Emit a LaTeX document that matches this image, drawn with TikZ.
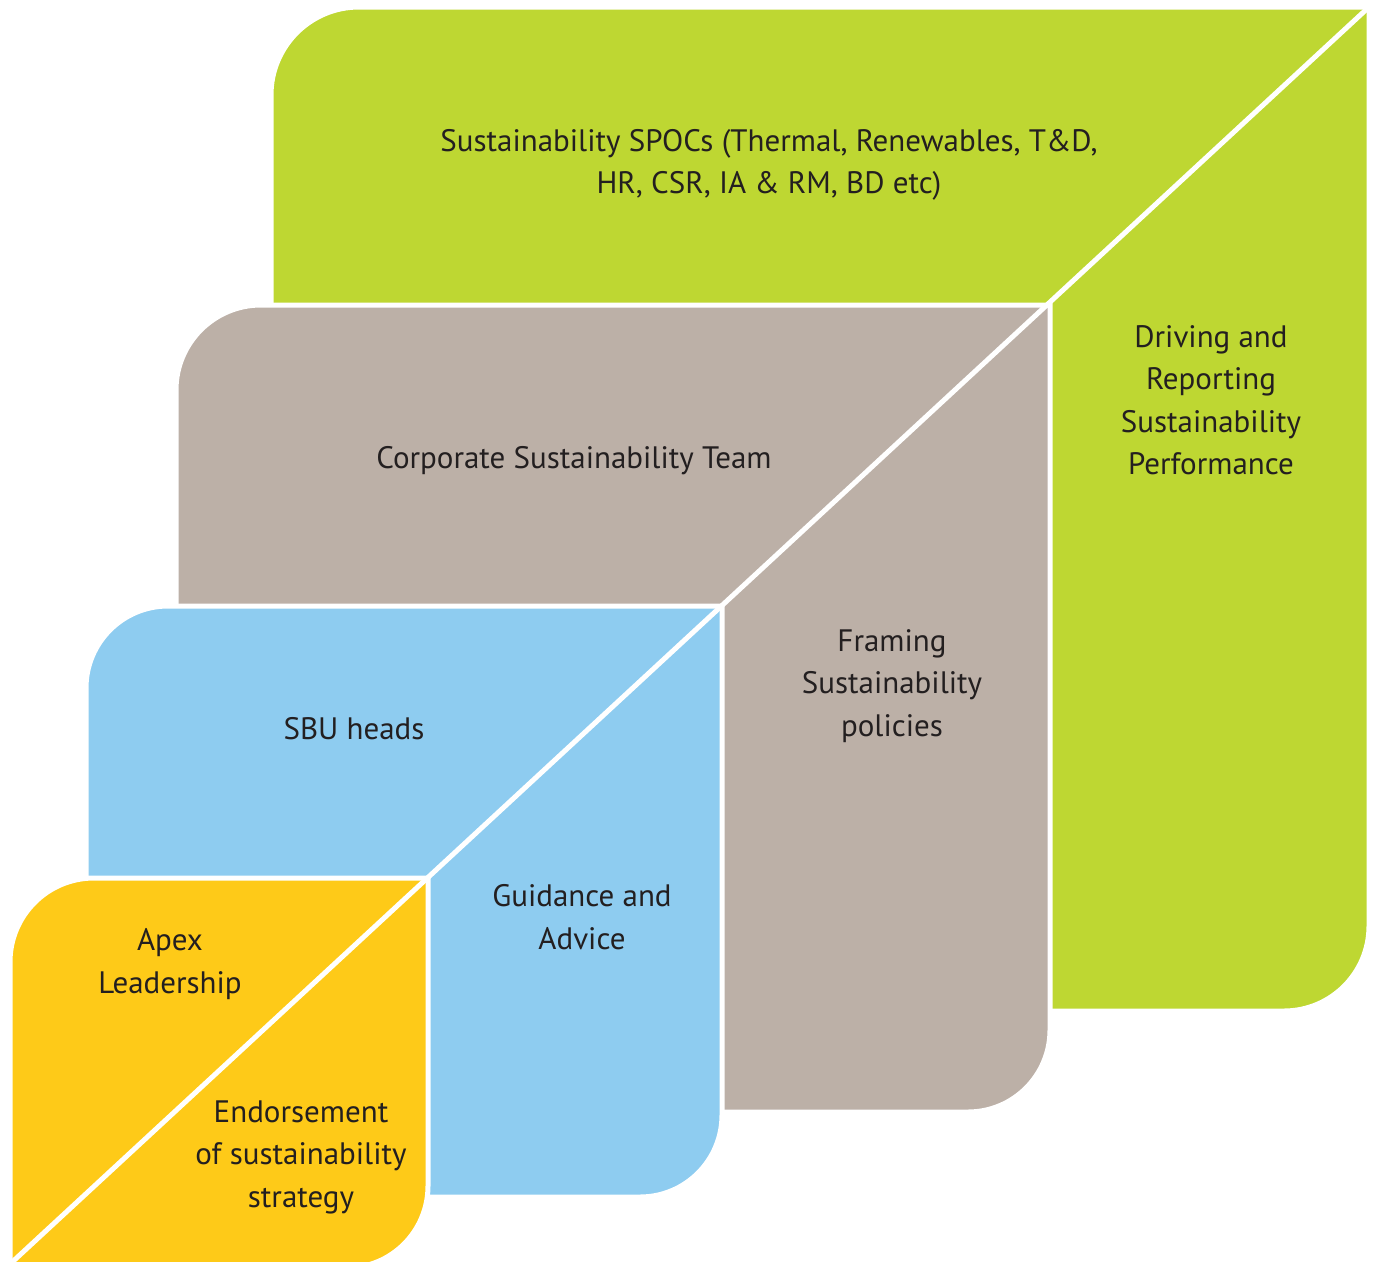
\documentclass[tikz,border=0pt]{standalone}
\usepackage{fontspec}
\setmainfont{PT Sans}
\definecolor{cgreen}{RGB}{190,215,50}
\definecolor{cgray}{RGB}{188,176,167}
\definecolor{cblue}{RGB}{142,204,240}
\definecolor{cyellow}{RGB}{254,202,24}
\definecolor{ctext}{RGB}{35,31,32}
\begin{document}
\begin{tikzpicture}[x=1pt,y=-1pt,
  panel/.style={draw=white,line width=5pt,line join=miter},
  lbl/.style={text=ctext,align=center,font=\fontsize{31}{42.5}\selectfont,inner sep=0pt}]
\useasboundingbox (0,0) rectangle (1373,1261);
% shape: (x1,y2) -- (x1,y1+R) arc -- (x2,y1) -- (x2,y2-R) arc -- cycle
\path[panel,fill=cgreen] (271,1011) -- (271,95) arc[start angle=180,end angle=270,radius=88]
  -- (1369,7) -- (1369,926) arc[start angle=0,end angle=90,radius=85] -- cycle;
\path[panel,fill=cgray] (176,1112) -- (176,390) arc[start angle=180,end angle=270,radius=85]
  -- (1050,305) -- (1050,1030) arc[start angle=0,end angle=90,radius=82] -- cycle;
\path[panel,fill=cblue] (86,1197) -- (86,688) arc[start angle=180,end angle=270,radius=82]
  -- (722,606) -- (722,1115) arc[start angle=0,end angle=90,radius=82] -- cycle;
\path[panel,fill=cyellow] (10,1268) -- (10,962) arc[start angle=180,end angle=270,radius=84]
  -- (428,878) -- (428,1186) arc[start angle=0,end angle=90,radius=82] -- cycle;
\coordinate (dtop) at (1369,7);
\coordinate (dbot) at (9,1265);
\draw[white,line width=5pt] (dtop) -- (dbot);
\node[lbl] (spocs) at (769,165) {Sustainability SPOCs (Thermal, Renewables, T\&D,\\HR, CSR, IA \& RM, BD etc)};
\node[lbl] (drive) at (1211,400) {Driving and\\Reporting\\Sustainability\\Performance};
\node[lbl] (corp) at (574,461) {Corporate Sustainability Team};
\node[lbl] (frame) at (892,686) {Framing\\Sustainability\\policies};
\node[lbl] (sbu) at (354,729) {SBU heads};
\node[lbl] (guide) at (582,917) {Guidance and\\Advice};
\node[lbl] (apex) at (170,964) {Apex\\Leadership};
\node[lbl] (endo) at (301,1157) {Endorsement\\of sustainability\\strategy};
\end{tikzpicture}
\end{document}
